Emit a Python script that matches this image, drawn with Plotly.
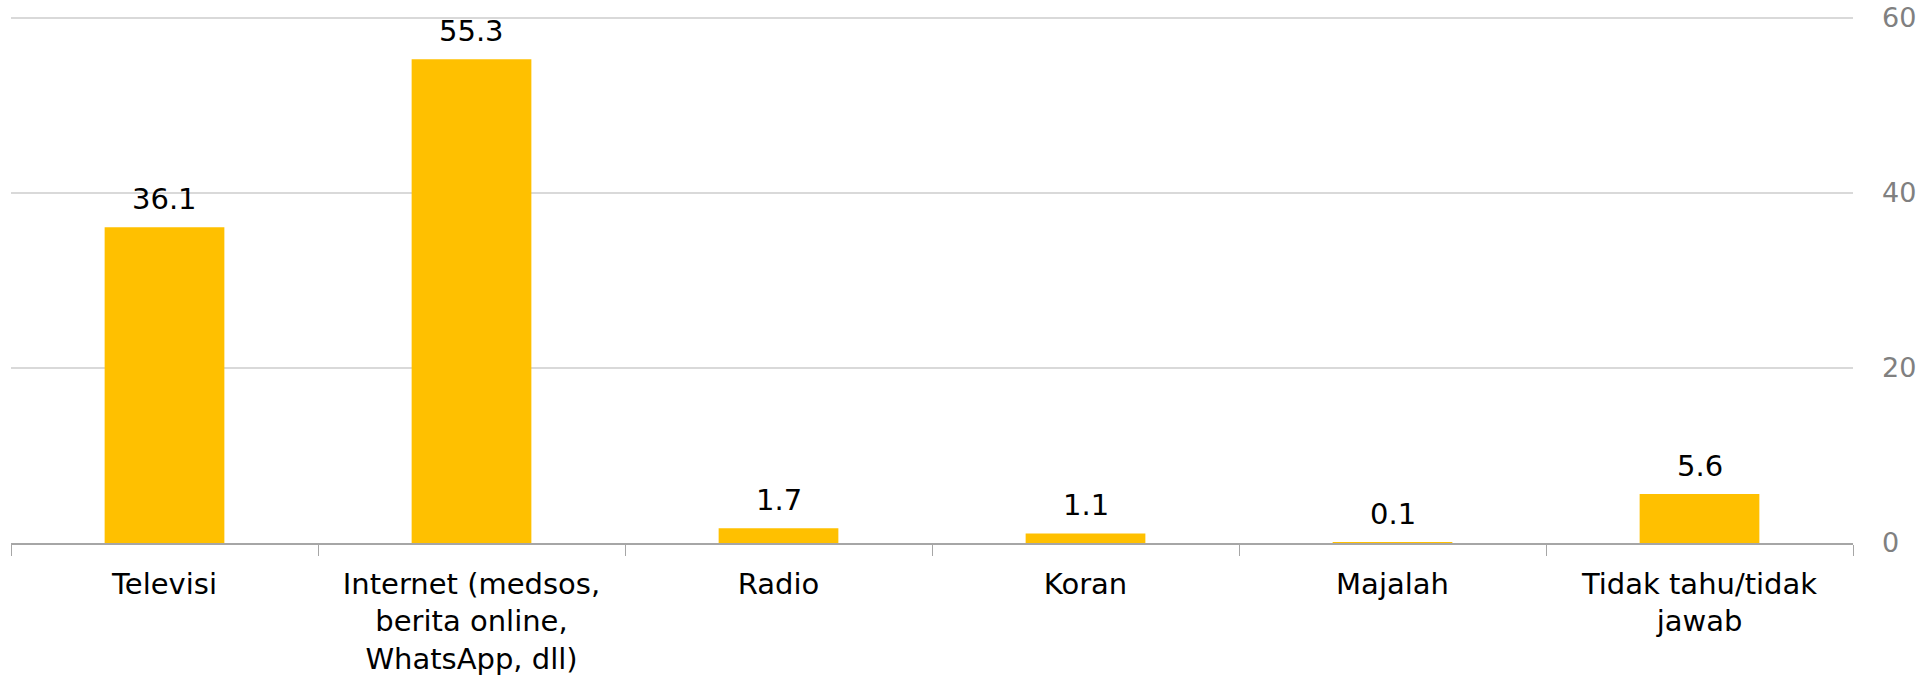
import plotly.graph_objects as go

categories = ["Televisi", "Internet (medsos,<br>berita online,<br>WhatsApp, dll)", "Radio", "Koran", "Majalah", "Tidak tahu/tidak<br>jawab"]
values = [36.1, 55.3, 1.7, 1.1, 0.1, 5.6]
y_ticks = [0, 20, 40, 60]

FONT = "DejaVu Sans"

fig = go.Figure()
fig.add_trace(go.Bar(
    x=categories, y=values,
    marker=dict(color="#FFC000", line=dict(width=0)),
    width=0.39,
))
for c, v in zip(categories, values):
    fig.add_annotation(
        x=c, y=v, text=f"{v:.1f}", showarrow=False,
        yanchor="bottom", yshift=9,
        font=dict(family=FONT, size=29, color="#000000"),
    )

fig.update_layout(
    width=1928, height=681,
    margin=dict(l=11, r=75, t=9, b=138),
    paper_bgcolor="white", plot_bgcolor="white",
    showlegend=False,
    font=dict(family=FONT, size=29, color="#000000"),
)
fig.update_xaxes(
    showline=True, linecolor="#A6A6A6", linewidth=1.5,
    ticks="outside", tickson="boundaries", ticklen=11, tickcolor="#A6A6A6", tickwidth=1,
    tickfont=dict(family=FONT, size=29, color="#000000"),
    ticklabelstandoff=14,
    showgrid=False, automargin=False,
)
fig.update_yaxes(
    side="right", range=[0, 61.03], tickvals=y_ticks,
    showgrid=True, gridcolor="#D9D9D9", gridwidth=1.5,
    zeroline=False, showline=False,
    tickfont=dict(family=FONT, size=27, color="#808080"),
    ticklabelstandoff=28, automargin=False,
)

fig.write_html("out.html")
